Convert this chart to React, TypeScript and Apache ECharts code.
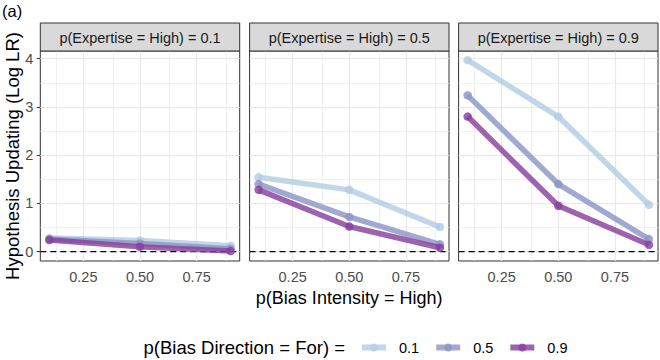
import React, { useEffect, useRef } from "react";
import * as echarts from "echarts";

// ---- data ----
const biasIntensity = [0.1, 0.5, 0.9];
const expertiseLabels = [
  "p(Expertise = High) = 0.1",
  "p(Expertise = High) = 0.5",
  "p(Expertise = High) = 0.9",
];
const directionLevels = ["0.1", "0.5", "0.9"];
// rows: bias direction 0.1, 0.5, 0.9 ; columns: bias intensity 0.1, 0.5, 0.9
const expertise01 = [
  [0.28, 0.23, 0.12],
  [0.26, 0.17, 0.06],
  [0.24, 0.1, 0.01],
];
const expertise05 = [
  [1.54, 1.28, 0.51],
  [1.4, 0.72, 0.15],
  [1.28, 0.52, 0.08],
];
const expertise09 = [
  [3.97, 2.8, 0.97],
  [3.24, 1.4, 0.26],
  [2.8, 0.95, 0.14],
];
const panelValues = [expertise01, expertise05, expertise09];
const yTicks = [0, 1, 2, 3, 4];
const yMinor = [0.5, 1.5, 2.5, 3.5];
const xTicks = [0.25, 0.5, 0.75];
const xMinor = [0.125, 0.375, 0.625, 0.875];

// ---- styles / layout ----
const colors = ["#b3cde3", "#8c96c6", "#88419d"];
const FONT = "'Liberation Sans', Arial, Helvetica, sans-serif";
const PANEL_LEFT = [40.3, 249.6, 458.6];
const PANEL_W = 199.4;
const PANEL_TOP = 51;
const PANEL_H = 210;
const STRIP_TOP = 23;
const X_MIN = 0.06;
const X_MAX = 0.94;
const Y_MIN = -0.195;
const Y_MAX = 4.16;

export default function App() {
  const ref = useRef<HTMLDivElement>(null);

  useEffect(() => {
    document.body.style.margin = "0";
    if (!ref.current) return;
    const chart = echarts.init(ref.current, null, { renderer: "svg" });

    const grids = PANEL_LEFT.map((left) => ({
      left,
      top: PANEL_TOP,
      width: PANEL_W,
      height: PANEL_H,
      show: true,
      borderColor: "#333333",
      borderWidth: 1,
      backgroundColor: "rgba(0,0,0,0)",
    }));

    const xAxes = PANEL_LEFT.map((_, i) => ({
      type: "value",
      gridIndex: i,
      min: X_MIN,
      max: X_MAX,
      axisLine: { show: false },
      splitLine: { show: false },
      axisTick: {
        show: true,
        customValues: xTicks,
        length: 3.5,
        lineStyle: { color: "#333333", width: 1 },
      },
      axisLabel: {
        customValues: xTicks,
        formatter: (v: number) => v.toFixed(2),
        color: "#4d4d4d",
        fontSize: 14.5,
        fontFamily: FONT,
        margin: 8,
      },
    }));

    const yAxes = PANEL_LEFT.map((_, i) => ({
      type: "value",
      gridIndex: i,
      min: Y_MIN,
      max: Y_MAX,
      axisLine: { show: false },
      splitLine: { show: false },
      axisTick: {
        show: i === 0,
        customValues: yTicks,
        length: 3.5,
        lineStyle: { color: "#333333", width: 1 },
      },
      axisLabel: {
        show: i === 0,
        customValues: yTicks,
        color: "#4d4d4d",
        fontSize: 14.5,
        fontFamily: FONT,
        margin: 7,
      },
    }));

    const series: any[] = [];
    PANEL_LEFT.forEach((_, i) => {
      series.push({
        type: "line",
        xAxisIndex: i,
        yAxisIndex: i,
        data: [
          [X_MIN, 0],
          [X_MAX, 0],
        ],
        symbol: "none",
        silent: true,
        z: 2,
        lineStyle: { color: "#000000", width: 1.2, type: [6, 4] },
        emphasis: { disabled: true },
        markLine: {
          silent: true,
          symbol: ["none", "none"],
          label: { show: false },
          z: 1,
          lineStyle: { color: "#e8e8e8", width: 1.2, type: "solid" },
          emphasis: { disabled: true },
          data: [
            ...yMinor.map((v) => ({ yAxis: v, lineStyle: { width: 0.7, color: "#ebebeb", type: "solid" } })),
            ...xMinor.map((v) => ({ xAxis: v, lineStyle: { width: 0.7, color: "#ebebeb", type: "solid" } })),
            ...yTicks.map((v) => ({ yAxis: v })),
            ...xTicks.map((v) => ({ xAxis: v })),
          ],
        },
      });
      directionLevels.forEach((name, j) => {
        series.push({
          type: "line",
          name,
          xAxisIndex: i,
          yAxisIndex: i,
          data: biasIntensity.map((x, k) => [x, panelValues[i][j][k]]),
          symbol: "circle",
          symbolSize: 8.5,
          z: 3 + j,
          lineStyle: { color: colors[j], width: 5.5, opacity: 0.82, cap: "butt", join: "round" },
          itemStyle: { color: colors[j], opacity: 0.82 },
          emphasis: { disabled: true },
        });
      });
    });

    const graphic: any[] = [];
    PANEL_LEFT.forEach((left, i) => {
      graphic.push({
        type: "rect",
        shape: { x: left, y: STRIP_TOP, width: PANEL_W, height: PANEL_TOP - STRIP_TOP },
        style: { fill: "#d9d9d9", stroke: "#333333", lineWidth: 1 },
        z: 10,
      });
      graphic.push({
        type: "text",
        x: left + PANEL_W / 2,
        y: (STRIP_TOP + PANEL_TOP) / 2 + 0.5,
        style: {
          text: expertiseLabels[i],
          fill: "#1a1a1a",
          font: `14.5px ${FONT}`,
          textAlign: "center",
          textVerticalAlign: "middle",
        },
        z: 11,
      });
    });
    graphic.push({
      type: "text",
      x: 2,
      y: 11,
      style: { text: "(a)", fill: "#000", font: `16.5px ${FONT}`, textAlign: "left", textVerticalAlign: "middle" },
    });
    graphic.push({
      type: "text",
      x: 12,
      y: 156,
      rotation: Math.PI / 2,
      style: {
        text: "Hypothesis Updating (Log LR)",
        fill: "#000",
        font: `18.5px ${FONT}`,
        textAlign: "center",
        textVerticalAlign: "middle",
      },
    });
    graphic.push({
      type: "text",
      x: (PANEL_LEFT[0] + PANEL_LEFT[2] + PANEL_W) / 2,
      y: 298,
      style: {
        text: "p(Bias Intensity = High)",
        fill: "#000",
        font: `18px ${FONT}`,
        textAlign: "center",
        textVerticalAlign: "middle",
      },
    });
    graphic.push({
      type: "text",
      x: 345,
      y: 347,
      style: {
        text: "p(Bias Direction = For) =",
        fill: "#000",
        font: `18.5px ${FONT}`,
        textAlign: "right",
        textVerticalAlign: "middle",
      },
    });

    chart.setOption({
      animation: false,
      grid: grids,
      xAxis: xAxes,
      yAxis: yAxes,
      series,
      graphic,
      legend: {
        data: directionLevels,
        left: 354,
        top: 335,
        padding: 5,
        orient: "horizontal",
        itemWidth: 24,
        itemHeight: 10,
        itemGap: 14,
        selectedMode: false,
        lineStyle: { width: 6, opacity: 0.82 },
        itemStyle: { opacity: 0.82 },
        textStyle: { fontSize: 14.5, color: "#000", fontFamily: FONT, padding: [0, 0, 0, 8] },
      },
    });

    return () => chart.dispose();
  }, []);

  return <div ref={ref} style={{ width: 660, height: 360 }} />;
}
